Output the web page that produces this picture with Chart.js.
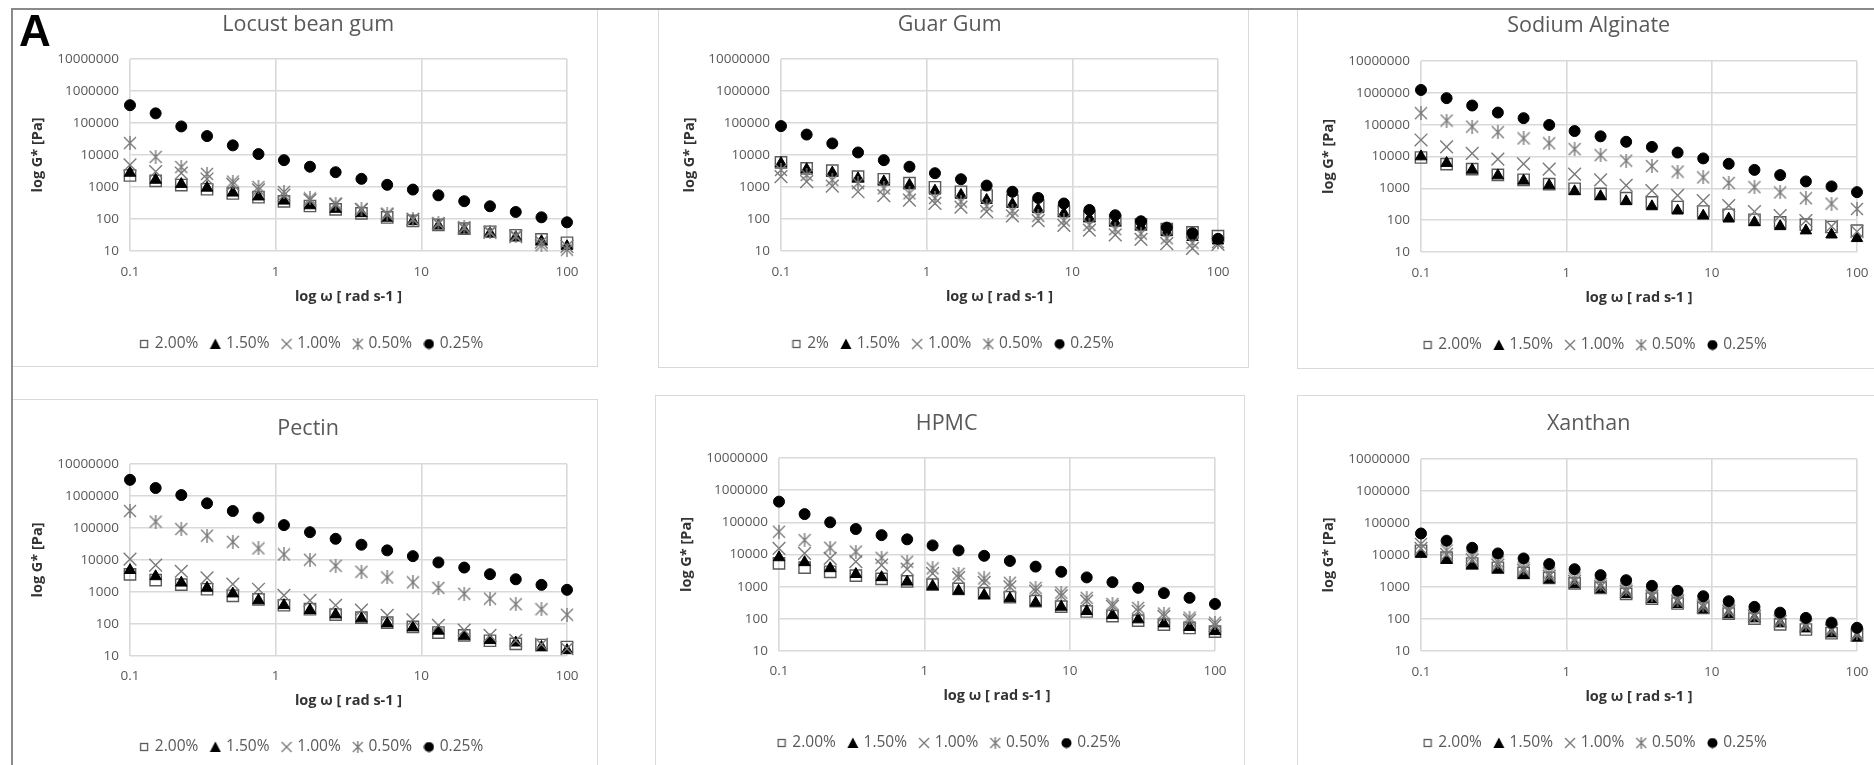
<!DOCTYPE html>
<html>
<head>
<meta charset="utf-8">
<script src="https://cdn.jsdelivr.net/npm/chart.js@4.4.1/dist/chart.umd.min.js"></script>
<style>
  html, body { margin: 0; padding: 0; background: #fff; }
  body { width: 1874px; height: 765px; overflow: hidden; position: relative; }
  .panel { position: absolute; border: 1px solid #d9d9d9; box-sizing: border-box; background: #fff; overflow: hidden; }
  .panel canvas { position: absolute; left: -1px; top: -1px; }
  #frame { position: absolute; left: 11px; top: 8px; width: 2000px; height: 1000px;
           border-left: 2px solid #8a8a8a; border-top: 2px solid #8a8a8a; pointer-events: none; }
  #tag { position: absolute; left: 19px; top: 6px; font: bold 44px "Liberation Sans", Arial, sans-serif; color: #000; }
</style>
</head>
<body>
<div id="frame"></div>
<div id="tag">A</div>
<script>
// Angular frequency sweep (rad/s), shared by every panel
const OMEGA = [0.1, 0.15, 0.225, 0.338, 0.508, 0.762, 1.14, 1.72, 2.58, 3.88, 5.83, 8.75, 13.1, 19.7, 29.6, 44.5, 66.8, 100];

// Axis ticks
const X_TICKS = [0.1, 1, 10, 100];
const Y_TICKS = [10, 100, 1000, 10000, 100000, 1000000, 10000000];

// Series names
const CONC_LABELS = ['2.00%', '1.50%', '1.00%', '0.50%', '0.25%'];
const CONC_LABELS_GUAR = ['2%', '1.50%', '1.00%', '0.50%', '0.25%'];

// Complex modulus G* (Pa) per gum and concentration
const LBG_200 = [2300, 1550, 1150, 850, 630, 480, 355, 255, 200, 150, 112, 88, 66, 50, 40, 31, 23, 18];
const LBG_150 = [2750, 1660, 1230, 940, 660, 500, 370, 265, 205, 150, 108, 85, 62, 46, 36, 27, 20, 14];
const LBG_100 = [4900, 3000, 2700, 1780, 1200, 820, 560, 390, 285, 195, 138, 97, 71, 52, 38, 28, 19, 14];
const LBG_050 = [23700, 8700, 4200, 2560, 1480, 1000, 700, 440, 305, 205, 148, 100, 74, 55, 40, 30, 15, 11];
const LBG_025 = [360000, 200000, 78000, 39000, 20000, 10700, 6900, 4300, 2900, 1800, 1170, 830, 550, 360, 250, 166, 113, 79];

const GG_200 = [5900, 3800, 3250, 2100, 1740, 1320, 980, 710, 540, 375, 263, 178, 122, 89, 68, 48, 38, 29];
const GG_150 = [5500, 3550, 2800, 1860, 1480, 1150, 760, 560, 390, 290, 200, 150, 105, 79, 58, 38, 27, 21];
const GG_100 = [2100, 1480, 1070, 710, 540, 390, 310, 235, 170, 125, 89, 63, 45, 32, 23, 17, 12, 16];
const GG_050 = [3400, 2370, 1660, 1320, 910, 630, 450, 350, 255, 180, 125, 90, 65, 48, 35, 25, 18, 19];
const GG_025 = [80000, 43500, 23000, 12000, 6900, 4300, 2700, 1750, 1110, 710, 455, 305, 192, 131, 85, 54, 36, 24];

const SA_200 = [9300, 5750, 4000, 2650, 1850, 1350, 970, 670, 490, 360, 258, 187, 148, 103, 85, 72, 61, 47];
const SA_150 = [10000, 6200, 3800, 2530, 1730, 1230, 800, 560, 390, 270, 198, 137, 111, 85, 64, 47, 35, 27];
const SA_100 = [33000, 20000, 12600, 8300, 5900, 4000, 2800, 1850, 1230, 850, 600, 410, 285, 187, 138, 96, 64, 44];
const SA_050 = [230000, 135000, 87000, 58000, 37000, 26000, 17000, 11000, 7400, 5000, 3350, 2200, 1480, 1090, 740, 490, 330, 225];
const SA_025 = [1230000, 680000, 400000, 240000, 160000, 98000, 63000, 43000, 29000, 20000, 13300, 8700, 5900, 3800, 2600, 1650, 1150, 760];

const PE_200 = [3550, 2350, 1700, 1220, 760, 590, 385, 290, 197, 158, 110, 81, 54, 44, 30, 24, 22, 19];
const PE_150 = [4800, 3070, 1940, 1340, 890, 550, 385, 270, 197, 148, 103, 77, 61, 42, 31, 26, 19, 15];
const PE_100 = [10700, 6900, 4450, 2750, 1750, 1220, 790, 550, 385, 270, 187, 134, 91, 64, 44, 31, 23, 17];
const PE_050 = [340000, 158000, 93000, 58000, 37000, 23000, 14900, 10200, 6600, 4300, 2850, 2000, 1340, 880, 620, 415, 290, 195];
const PE_025 = [3200000, 1780000, 1070000, 590000, 340000, 210000, 123000, 74000, 46000, 30000, 20000, 13200, 8400, 5800, 3600, 2500, 1670, 1170];

const HP_200 = [5300, 3900, 2900, 2200, 1750, 1450, 1150, 850, 620, 470, 355, 240, 170, 122, 88, 66, 52, 40];
const HP_150 = [8100, 5700, 3700, 2450, 1950, 1420, 1040, 740, 545, 430, 315, 235, 172, 130, 95, 71, 55, 41];
const HP_100 = [15500, 10900, 7600, 6000, 4700, 3500, 2600, 1900, 1350, 990, 730, 520, 355, 245, 172, 120, 90, 63];
const HP_050 = [51000, 28000, 16300, 12300, 7900, 6000, 3700, 2500, 1800, 1320, 920, 650, 450, 290, 220, 146, 109, 76];
const HP_025 = [440000, 180000, 100000, 62000, 40000, 29600, 19200, 13400, 9100, 6300, 4200, 2900, 1940, 1380, 920, 630, 450, 290];

const XA_200 = [13500, 8300, 5400, 4000, 2750, 1930, 1290, 940, 610, 435, 305, 222, 148, 103, 68, 47, 36, 31];
const XA_150 = [10700, 6900, 4800, 3500, 2350, 1700, 1200, 850, 590, 415, 290, 200, 140, 103, 72, 50, 35, 26];
const XA_100 = [16000, 10500, 7000, 4800, 3300, 2200, 1500, 1030, 720, 500, 350, 240, 170, 118, 83, 60, 43, 32];
const XA_050 = [22000, 14000, 9000, 6000, 4000, 2700, 1850, 1250, 850, 580, 400, 280, 195, 135, 95, 68, 48, 36];
const XA_025 = [47000, 28000, 16800, 11200, 7800, 5200, 3600, 2350, 1630, 1090, 760, 515, 360, 240, 158, 108, 77, 53];

// Panel contents
const CHARTS = [
  { title: 'Locust bean gum', labels: CONC_LABELS,      series: [LBG_200, LBG_150, LBG_100, LBG_050, LBG_025] },
  { title: 'Guar Gum',        labels: CONC_LABELS_GUAR, series: [GG_200, GG_150, GG_100, GG_050, GG_025] },
  { title: 'Sodium Alginate', labels: CONC_LABELS,      series: [SA_200, SA_150, SA_100, SA_050, SA_025] },
  { title: 'Pectin',          labels: CONC_LABELS,      series: [PE_200, PE_150, PE_100, PE_050, PE_025] },
  { title: 'HPMC',            labels: CONC_LABELS,      series: [HP_200, HP_150, HP_100, HP_050, HP_025] },
  { title: 'Xanthan',         labels: CONC_LABELS,      series: [XA_200, XA_150, XA_100, XA_050, XA_025] }
];

// Page geometry of each panel (box) and its plot area, in page pixels
const LAYOUT = [
  { box: {x: 12,   y: 9,   w: 586, h: 358}, plot: {l: 130,  r: 567,  t: 59,  b: 251}, titleY: 25,  titleShift: 10, legendShift: 14, xLabY: 272, xTitleY: 297, legendY: 344, yTitleX: 38 },
  { box: {x: 658,  y: 9,   w: 591, h: 359}, plot: {l: 781,  r: 1218, t: 59,  b: 251}, titleY: 25,  titleShift: 0,  legendShift: 4,  xLabY: 272, xTitleY: 297, legendY: 344, yTitleX: 690 },
  { box: {x: 1297, y: 9,   w: 590, h: 360}, plot: {l: 1421, r: 1857, t: 61,  b: 252}, titleY: 26,  titleShift: 0,  legendShift: 7,  xLabY: 273, xTitleY: 298, legendY: 345, yTitleX: 1329 },
  { box: {x: 12,   y: 399, w: 586, h: 380}, plot: {l: 130,  r: 567,  t: 464, b: 656}, titleY: 429, titleShift: 10, legendShift: 14, xLabY: 676, xTitleY: 701, legendY: 747, yTitleX: 38 },
  { box: {x: 655,  y: 395, w: 590, h: 380}, plot: {l: 779,  r: 1215, t: 458, b: 651}, titleY: 424, titleShift: 0,  legendShift: 3,  xLabY: 671, xTitleY: 696, legendY: 743, yTitleX: 687 },
  { box: {x: 1297, y: 395, w: 590, h: 380}, plot: {l: 1421, r: 1857, t: 459, b: 651}, titleY: 424, titleShift: 0,  legendShift: 7,  xLabY: 672, xTitleY: 697, legendY: 743, yTitleX: 1329 }
];

const FONT = '"Open Sans", "DejaVu Sans", sans-serif';
const GRID = '#d9d9d9';
const TEXT = '#595959';

// Small drawn markers
function markerCanvas(kind, size) {
  const c = document.createElement('canvas');
  c.width = size; c.height = size;
  const g = c.getContext('2d');
  const m = size / 2;
  if (kind === 'square') {
    g.fillStyle = '#fff'; g.fillRect(1, 1, size - 2, size - 2);
    g.strokeStyle = '#5a5a5a'; g.lineWidth = 1.3; g.strokeRect(1.5, 1.5, size - 3, size - 3);
  } else if (kind === 'triangle') {
    g.fillStyle = '#000'; g.beginPath();
    g.moveTo(m, 0.5); g.lineTo(size - 0.5, size - 1); g.lineTo(0.5, size - 1); g.closePath(); g.fill();
  } else if (kind === 'cross' || kind === 'asterisk') {
    g.strokeStyle = '#7a7a7a'; g.lineWidth = 1.4; g.beginPath();
    g.moveTo(1, 1); g.lineTo(size - 1, size - 1);
    g.moveTo(size - 1, 1); g.lineTo(1, size - 1);
    if (kind === 'asterisk') { g.moveTo(m, 0); g.lineTo(m, size); }
    g.stroke();
  } else {
    g.fillStyle = '#000'; g.beginPath(); g.arc(m, m, m - 0.5, 0, Math.PI * 2); g.fill();
  }
  return c;
}

const ASTERISK = markerCanvas('asterisk', 14);
const LEGEND_MARKS = [
  markerCanvas('square', 10), markerCanvas('triangle', 12), markerCanvas('cross', 12),
  markerCanvas('asterisk', 12), markerCanvas('circle', 11)
];

// Plot marker styles, in series order: 2.00, 1.50, 1.00, 0.50, 0.25 %
const STYLES = [
  { pointStyle: 'rect',      radius: 8,   bg: 'rgba(255,255,255,0)', border: '#5a5a5a', width: 1.4, order: 5 },
  { pointStyle: 'triangle',  radius: 6.6, bg: '#000', border: '#000', width: 1, order: 4 },
  { pointStyle: 'crossRot',  radius: 9,   bg: '#7a7a7a', border: '#7a7a7a', width: 1.4, order: 3 },
  { pointStyle: ASTERISK,    radius: 7,   bg: '#7a7a7a', border: '#7a7a7a', width: 1.4, order: 2 },
  { pointStyle: 'circle',    radius: 5.5, bg: '#000', border: '#000', width: 1, order: 1 }
];

// Moves the chart title and legend sideways by fixed amounts
const blockOffset = {
  id: 'blockOffset',
  afterLayout(chart, args, opts) {
    const t = chart.titleBlock, l = chart.legend;
    if (t && opts.title) { t.left += opts.title; t.right += opts.title; }
    if (l && opts.legend) { l.left += opts.legend; l.right += opts.legend; }
  }
};

function build(chartDef, geo) {
  const W = geo.box.w, H = geo.box.h;
  const div = document.createElement('div');
  div.className = 'panel';
  div.style.left = geo.box.x + 'px'; div.style.top = geo.box.y + 'px';
  div.style.width = W + 'px'; div.style.height = H + 'px';
  const cv = document.createElement('canvas');
  cv.width = W; cv.height = H;
  cv.style.width = W + 'px'; cv.style.height = H + 'px';
  div.appendChild(cv);
  document.body.insertBefore(div, document.getElementById('frame'));

  const titleFs = 21.5, titleLh = titleFs * 1.2;
  const tickFs = 13.5, tickLh = tickFs * 1.2;
  const axFs = 14.5, axLh = axFs * 1.2;
  const legFs = 15.5, legPad = 14;

  const tTop = geo.titleY - geo.box.y - titleLh / 2;
  const tBottom = (geo.plot.t - geo.box.y) - tTop - titleLh;
  const padL = geo.yTitleX - geo.box.x - axLh / 2;
  const yAxisW = geo.plot.l - geo.box.x - padL;
  const padR = geo.box.x + W - geo.plot.r;
  const legendCenter = geo.legendY - geo.box.y;
  const padB = H - 10 - legFs / 2 - legendCenter;
  const legendTop = legendCenter - legFs / 2 - legPad;
  const xAxisH = legendTop - (geo.plot.b - geo.box.y);
  const xTitlePadB = legendTop - (geo.xTitleY - geo.box.y) - axLh / 2;
  const xTickPad = geo.xLabY - geo.plot.b - tickLh / 2;

  const datasets = chartDef.series.map((vals, i) => ({
    label: chartDef.labels[i],
    data: OMEGA.map((w, k) => ({ x: w, y: vals[k] })),
    pointStyle: STYLES[i].pointStyle,
    pointRadius: STYLES[i].radius,
    backgroundColor: STYLES[i].bg,
    borderColor: STYLES[i].border,
    borderWidth: STYLES[i].width,
    order: STYLES[i].order,
    showLine: false,
    clip: false
  }));

  new Chart(cv, {
    type: 'scatter',
    data: { datasets },
    plugins: [blockOffset],
    options: {
      responsive: false,
      animation: false,
      devicePixelRatio: 1,
      events: [],
      layout: { padding: { left: padL, right: padR, top: 0, bottom: padB } },
      plugins: {
        blockOffset: { title: geo.titleShift, legend: geo.legendShift },
        tooltip: { enabled: false },
        title: {
          display: true, text: chartDef.title, color: TEXT,
          font: { family: FONT, size: titleFs, weight: 'normal', lineHeight: 1.2 },
          padding: { top: tTop, bottom: tBottom }
        },
        legend: {
          position: 'bottom',
          labels: {
            color: TEXT, font: { family: FONT, size: legFs },
            usePointStyle: true, boxWidth: 6, boxHeight: 8, padding: legPad,
            sort: (a, b) => a.datasetIndex - b.datasetIndex,
            generateLabels: (chart) => Chart.defaults.plugins.legend.labels.generateLabels(chart)
              .map(item => Object.assign(item, { pointStyle: LEGEND_MARKS[item.datasetIndex] }))
          }
        }
      },
      scales: {
        x: {
          type: 'logarithmic', min: 0.1, max: 100,
          afterBuildTicks: (s) => { s.ticks = X_TICKS.map(v => ({ value: v })); },
          afterFit: (s) => { s.height = xAxisH; },
          ticks: { color: TEXT, font: { family: FONT, size: tickFs }, padding: xTickPad,
                   maxRotation: 0, autoSkip: false, callback: (v) => String(v) },
          grid: { color: GRID, lineWidth: 1.6, drawTicks: false },
          border: { display: false },
          title: { display: true, text: 'log ω [ rad s-1 ]', color: '#333',
                   font: { family: FONT, size: axFs, weight: 'bold', lineHeight: 1.2 },
                   padding: { top: 0, bottom: xTitlePadB } }
        },
        y: {
          type: 'logarithmic', min: 10, max: 10000000,
          afterBuildTicks: (s) => { s.ticks = Y_TICKS.map(v => ({ value: v })); },
          afterFit: (s) => { s.width = yAxisW; },
          ticks: { color: TEXT, font: { family: FONT, size: tickFs }, padding: 11,
                   autoSkip: false, callback: (v) => String(v) },
          grid: { color: GRID, lineWidth: 1.6, drawTicks: false },
          border: { display: false },
          title: { display: true, text: 'log G* [Pa]', color: '#333',
                   font: { family: FONT, size: axFs, weight: 'bold', lineHeight: 1.2 },
                   padding: { top: 0, bottom: 0 } }
        }
      }
    }
  });
}

CHARTS.forEach((c, i) => build(c, LAYOUT[i]));
</script>
</body>
</html>
